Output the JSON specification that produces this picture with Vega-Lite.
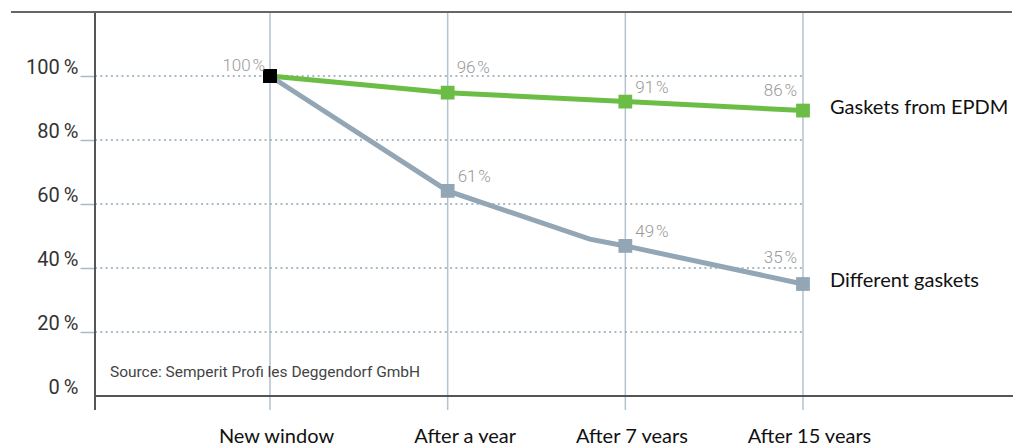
{
  "$schema": "https://vega.github.io/schema/vega-lite/v6.json",
  "autosize": {"type": "none"},
  "padding": {"left": 95, "top": 12, "right": 2, "bottom": 47},
  "width": 918,
  "height": 384,
  "background": "white",
  "config": {"view": {"stroke": null}},
  "datasets": {
    "lines": [
      {"stage": 1, "series": "Gaskets from EPDM", "value": 100},
      {"stage": 2, "series": "Gaskets from EPDM", "value": 94.8},
      {"stage": 3, "series": "Gaskets from EPDM", "value": 92.0},
      {"stage": 4, "series": "Gaskets from EPDM", "value": 89.2},
      {"stage": 1, "series": "Different gaskets", "value": 100},
      {"stage": 2, "series": "Different gaskets", "value": 64.1},
      {"stage": 2.8, "series": "Different gaskets", "value": 49.0},
      {"stage": 3, "series": "Different gaskets", "value": 46.9},
      {"stage": 4, "series": "Different gaskets", "value": 35.0}
    ],
    "markers": [
      {"stage": 1, "series": "Gaskets from EPDM", "value": 100, "label": "100\u200a%"},
      {"stage": 2, "series": "Gaskets from EPDM", "value": 94.8, "label": "96\u200a%"},
      {"stage": 3, "series": "Gaskets from EPDM", "value": 92.0, "label": "91\u200a%"},
      {"stage": 4, "series": "Gaskets from EPDM", "value": 89.2, "label": "86\u200a%"},
      {"stage": 1, "series": "Different gaskets", "value": 100, "label": null},
      {"stage": 2, "series": "Different gaskets", "value": 64.1, "label": "61\u200a%"},
      {"stage": 3, "series": "Different gaskets", "value": 46.9, "label": "49\u200a%"},
      {"stage": 4, "series": "Different gaskets", "value": 35.0, "label": "35\u200a%"}
    ],
    "grid": [{"g": 20}, {"g": 40}, {"g": 60}, {"g": 80}, {"g": 100}],
    "stages": [{"stage": 1}, {"stage": 2}, {"stage": 3}, {"stage": 4}]
  },
  "layer": [
    {
      "data": {"name": "stages"},
      "mark": {"type": "rule", "color": "#b3c3cf", "strokeWidth": 1.5},
      "encoding": {
        "x": {"field": "stage", "type": "quantitative",
              "scale": {"domain": [0.015, 5.182], "nice": false, "zero": false},
              "axis": {"values": [1, 2, 3, 4],
                       "labelExpr": "['','New window','After a year','After 7 years','After 15 years'][datum.value]",
                       "grid": false, "ticks": false, "domain": false, "title": null,
                       "labelBaseline": "alphabetic", "labelPadding": 46,
                       "labelFont": "Lato", "labelFontSize": 20, "labelColor": "#111111",
                       "labelOffset": {"condition": {"test": "datum.value == 2", "value": 17}, "value": 6},
                       "labelFlush": false, "labelOverlap": false}},
        "y": {"datum": -4.4, "type": "quantitative",
              "scale": {"domain": [0, 120], "nice": false, "zero": false},
              "axis": {"values": [0, 20, 40, 60, 80, 100],
                       "labelExpr": "datum.value + '\u2009%'",
                       "grid": false, "domain": false, "title": null,
                       "tickSize": 15, "tickWidth": 1.5,
                       "tickColor": {"condition": {"test": "datum.value == 0", "value": "transparent"}, "value": "#a7bac8"},
                       "labelPadding": 2, "labelFont": "Roboto", "labelFontWeight": 400, "labelFontSize": 20,
                       "labelColor": "#333333", "labelBaseline": "alphabetic", "labelOffset": -3}},
        "y2": {"datum": 120}
      }
    },
    {
      "data": {"name": "grid"},
      "mark": {"type": "rule", "color": "#8ea5b7", "strokeWidth": 1.5, "strokeDash": [2, 3.3]},
      "encoding": {
        "y": {"field": "g", "type": "quantitative"},
        "x": {"datum": 0.015},
        "x2": {"datum": 4}
      }
    },
    {
      "data": {"values": [{}]},
      "mark": {"type": "rule", "color": "#555555", "strokeWidth": 2},
      "encoding": {"x": {"datum": 0.015}, "y": {"datum": -4.4}, "y2": {"datum": 120}}
    },
    {
      "data": {"values": [{}]},
      "mark": {"type": "rule", "color": "#555555", "strokeWidth": 2},
      "encoding": {"y": {"datum": 0}, "x": {"datum": 0.015}, "x2": {"datum": 5.182}}
    },
    {
      "data": {"values": [{}]},
      "mark": {"type": "rule", "color": "#666666", "strokeWidth": 2},
      "encoding": {"y": {"datum": 120}, "x": {"datum": -0.458}, "x2": {"datum": 5.176}}
    },
    {
      "data": {"values": [{}]},
      "mark": {"type": "text", "text": "Source: Semperit Profi les Deggendorf GmbH", "align": "left", "baseline": "alphabetic",
               "font": "Roboto", "fontWeight": 400, "fontSize": 15.5, "color": "#444444"},
      "encoding": {"x": {"datum": 0.099}, "y": {"datum": 5.94}}
    },
    {
      "data": {"name": "lines"},
      "mark": {"type": "line", "strokeWidth": 5},
      "encoding": {
        "x": {"field": "stage", "type": "quantitative"},
        "y": {"field": "value", "type": "quantitative"},
        "color": {"field": "series", "type": "nominal",
                  "scale": {"domain": ["Gaskets from EPDM", "Different gaskets"], "range": ["#6cbd45", "#92a6b5"]},
                  "legend": null},
        "order": {"field": "stage", "type": "quantitative"}
      }
    },
    {
      "data": {"name": "markers"},
      "mark": {"type": "square", "size": 190, "opacity": 1, "filled": true},
      "encoding": {
        "x": {"field": "stage", "type": "quantitative"},
        "y": {"field": "value", "type": "quantitative"},
        "color": {"condition": {"test": "datum.stage == 1", "value": "#000000"},
                  "field": "series", "type": "nominal", "legend": null}
      }
    },
    {
      "data": {"name": "markers"},
      "transform": [{"filter": "datum.stage == 3 || datum.label == '61\u200a%'"}],
      "mark": {"type": "text", "align": "left", "baseline": "alphabetic", "dx": 10, "dy": -9,
               "font": "Roboto", "fontWeight": 300, "fontSize": 17, "color": "#9a9a9a"},
      "encoding": {"x": {"field": "stage", "type": "quantitative"}, "y": {"field": "value", "type": "quantitative"}, "text": {"field": "label"}}
    },
    {
      "data": {"name": "markers"},
      "transform": [{"filter": "datum.label == '96\u200a%'"}],
      "mark": {"type": "text", "align": "left", "baseline": "alphabetic", "dx": 9, "dy": -20,
               "font": "Roboto", "fontWeight": 300, "fontSize": 17, "color": "#9a9a9a"},
      "encoding": {"x": {"field": "stage", "type": "quantitative"}, "y": {"field": "value", "type": "quantitative"}, "text": {"field": "label"}}
    },
    {
      "data": {"name": "markers"},
      "transform": [{"filter": "datum.label == '100\u200a%'"}],
      "mark": {"type": "text", "align": "right", "baseline": "alphabetic", "dx": -5, "dy": -5,
               "font": "Roboto", "fontWeight": 300, "fontSize": 17, "color": "#9a9a9a"},
      "encoding": {"x": {"field": "stage", "type": "quantitative"}, "y": {"field": "value", "type": "quantitative"}, "text": {"field": "label"}}
    },
    {
      "data": {"name": "markers"},
      "transform": [{"filter": "datum.label == '86\u200a%'"}],
      "mark": {"type": "text", "align": "right", "baseline": "alphabetic", "dx": -6, "dy": -15,
               "font": "Roboto", "fontWeight": 300, "fontSize": 17, "color": "#9a9a9a"},
      "encoding": {"x": {"field": "stage", "type": "quantitative"}, "y": {"field": "value", "type": "quantitative"}, "text": {"field": "label"}}
    },
    {
      "data": {"name": "markers"},
      "transform": [{"filter": "datum.label == '35\u200a%'"}],
      "mark": {"type": "text", "align": "right", "baseline": "alphabetic", "dx": -6, "dy": -21,
               "font": "Roboto", "fontWeight": 300, "fontSize": 17, "color": "#9a9a9a"},
      "encoding": {"x": {"field": "stage", "type": "quantitative"}, "y": {"field": "value", "type": "quantitative"}, "text": {"field": "label"}}
    },
    {
      "data": {"name": "markers"},
      "transform": [{"filter": "datum.stage == 4"}],
      "mark": {"type": "text", "align": "left", "baseline": "alphabetic", "dx": 27, "dy": 3,
               "font": "Lato", "fontSize": 20, "color": "#111111"},
      "encoding": {"x": {"field": "stage", "type": "quantitative"}, "y": {"field": "value", "type": "quantitative"}, "text": {"field": "series"}}
    }
  ]
}
